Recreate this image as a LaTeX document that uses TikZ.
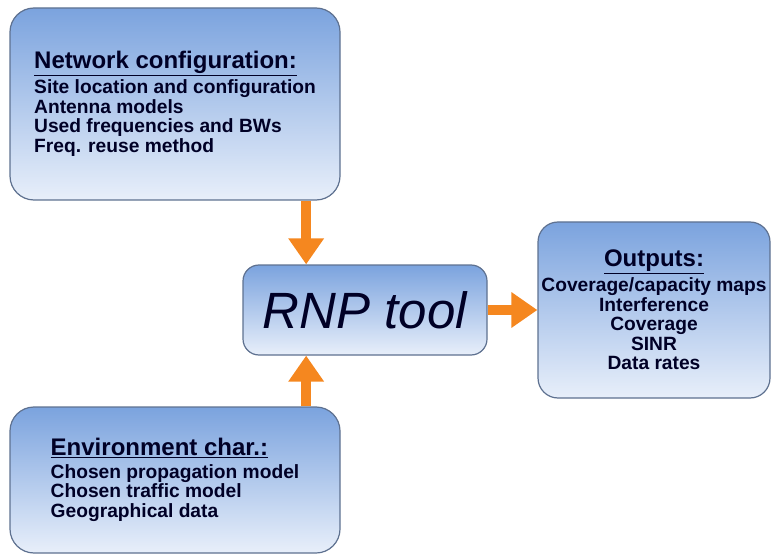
\documentclass[tikz,border=0pt]{standalone}
\usepackage{fontspec}
\setmainfont{Liberation Sans}
\usetikzlibrary{positioning,calc,arrows.meta}
\definecolor{boxtop}{HTML}{7BA3DE}
\definecolor{boxbottom}{HTML}{E8EFFA}
\definecolor{boxline}{HTML}{5E7190}
\definecolor{flowcolor}{HTML}{F5871F}
\newcommand{\heading}[1]{{\fontsize{24}{24}\selectfont\underline{#1}}}

\begin{document}
\begin{tikzpicture}[
    x=1pt, y=1pt,
    block/.style={
      rectangle,
      rounded corners=24pt,
      draw=boxline,
      line width=1.2pt,
      top color=boxtop,
      bottom color=boxbottom,
      text=black!85!blue,
      font=\bfseries\fontsize{19.2}{19.5}\selectfont
    },
    flow/.style={
      draw=flowcolor,
      line width=10pt,
      -{Triangle[width=34pt,length=26pt]}
    }
]
  \useasboundingbox (0,0) rectangle (776,555);

  \node[block, minimum width=244pt, minimum height=90pt,
        font=\itshape\fontsize{51}{52}\selectfont, rounded corners=16pt] (rnp) at (365,245) {RNP tool};

  \node[block, minimum width=330pt, minimum height=192pt, align=left] (netconf) at (175,451) {
    \heading{Network configuration:}
    \\[3pt] Site location and configuration
    \\ Antenna models
    \\ Used frequencies and BWs
    \\ Freq. reuse method
  };

  \node[block, minimum width=330pt, minimum height=146pt, align=left] (envchar) at (175,75) {
    \heading{Environment char.:}
    \\[3pt] Chosen propagation model
    \\ Chosen traffic model
    \\ Geographical data
  };

  \node[block, minimum width=232pt, minimum height=176pt, align=center,
        rounded corners=20pt] (outputs) at (654,245) {
    \heading{Outputs:}
    \\[3pt] Coverage/capacity maps
    \\ Interference
    \\ Coverage
    \\ SINR
    \\ Data rates
  };

  % inputs enter the tool left of its middle
  \coordinate (rnpin)  at ($(rnp.north west)!0.26!(rnp.north east)$);
  \coordinate (rnpenv) at ($(rnp.south west)!0.26!(rnp.south east)$);

  \draw[flow] (netconf.south -| rnpin) -- (rnpin);
  \draw[flow] (envchar.north -| rnpenv) -- (rnpenv);
  \draw[flow] (rnp.east) -- (outputs.west);

\end{tikzpicture}
\end{document}
